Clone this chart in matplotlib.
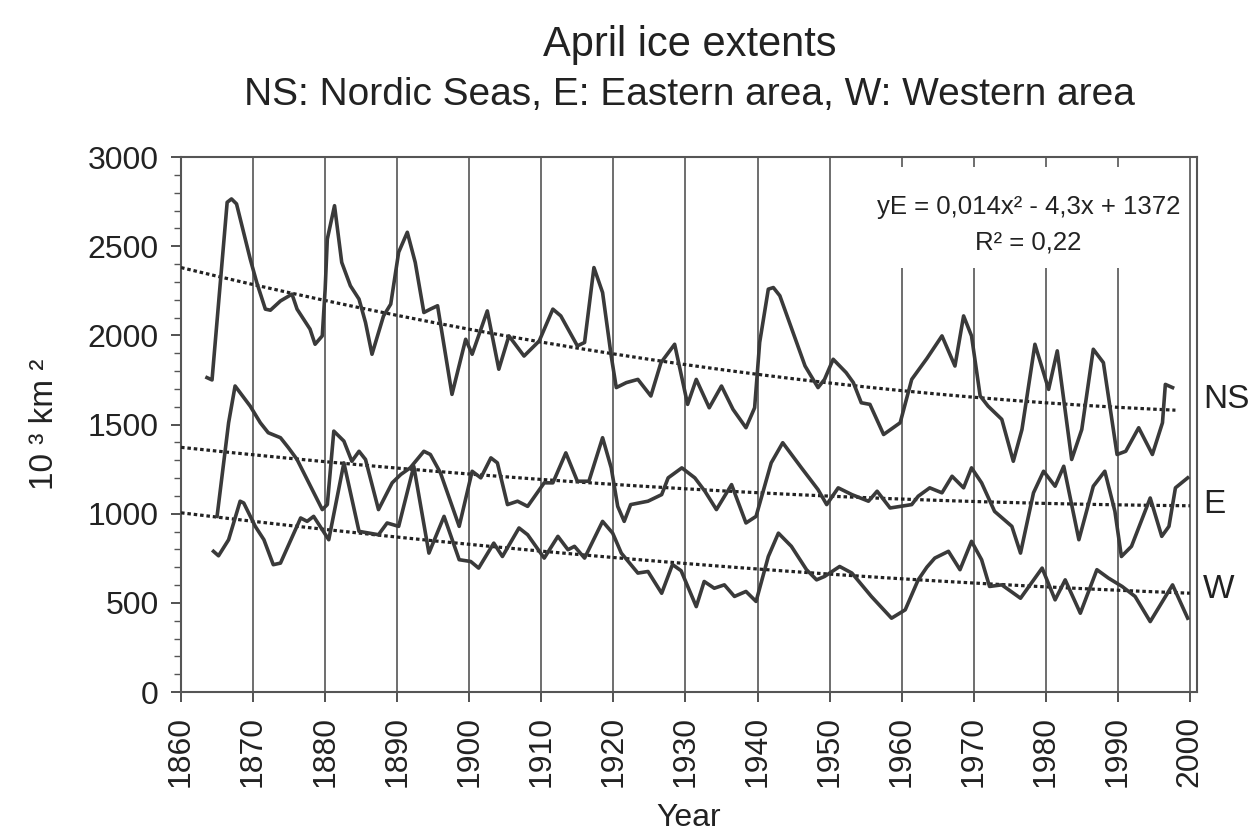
import numpy as np
import matplotlib
matplotlib.use("Agg")
import matplotlib.pyplot as plt
from matplotlib.patches import Rectangle

plt.rcParams['font.family'] = ['Liberation Sans', 'DejaVu Sans']

# ---- data ----
ns_years = [1863.6, 1864.3, 1866.4, 1867.0, 1867.7, 1869.6, 1870.5, 1871.7, 1872.4, 1873.8,
            1875.4, 1876.1, 1877.0, 1877.9, 1878.6, 1879.6, 1880.0, 1880.3, 1881.3, 1882.3,
            1883.5, 1884.7, 1885.6, 1886.5, 1888.1, 1889.1, 1890.2, 1891.4, 1892.5, 1893.7,
            1894.6, 1895.6, 1897.6, 1899.5, 1900.4, 1902.5, 1904.1, 1905.5, 1907.6, 1909.7,
            1911.6, 1912.7, 1915.0, 1916.0, 1917.3, 1918.5, 1919.7, 1920.4, 1921.8, 1923.4,
            1925.2, 1926.6, 1928.5, 1930.3, 1931.5, 1933.3, 1935.0, 1936.6, 1938.4, 1939.6,
            1940.3, 1941.5, 1942.2, 1943.1, 1946.6, 1948.4, 1949.3, 1950.5, 1952.3, 1953.3,
            1954.4, 1955.6, 1957.5, 1959.8, 1961.4, 1963.5, 1965.6, 1967.4, 1968.6, 1969.7,
            1970.9, 1972.0, 1973.9, 1975.5, 1976.7, 1978.5, 1980.4, 1981.6, 1983.6, 1985.0,
            1986.6, 1988.0, 1989.9, 1991.1, 1992.9, 1994.8, 1996.2, 1996.6, 1997.6]
ns_values = [1763, 1750, 2746, 2765, 2737, 2428, 2297, 2147, 2141, 2193,
             2231, 2147, 2091, 2035, 1950, 1997, 2259, 2540, 2727, 2409,
             2278, 2203, 2072, 1894, 2109, 2175, 2466, 2578, 2409, 2128,
             2147, 2166, 1669, 1978, 1894, 2137, 1810, 1997, 1884, 1968,
             2147, 2109, 1941, 1960, 2380, 2240, 1884, 1707, 1735, 1753,
             1660, 1847, 1950, 1613, 1753, 1594, 1716, 1585, 1482, 1594,
             1960, 2259, 2268, 2222, 1828, 1707, 1753, 1866, 1791, 1735,
             1622, 1613, 1444, 1510, 1753, 1870, 1997, 1828, 2109, 1997,
             1660, 1603, 1529, 1294, 1472, 1950, 1697, 1913, 1304, 1472,
             1922, 1847, 1332, 1350, 1482, 1332, 1510, 1725, 1707]

e_years = [1865.0, 1866.6, 1867.5, 1869.6, 1871.0, 1872.1, 1873.8, 1874.9, 1876.1, 1879.6,
           1880.3, 1881.2, 1882.6, 1883.7, 1884.7, 1885.6, 1887.4, 1889.3, 1890.5, 1891.8,
           1893.7, 1894.6, 1896.0, 1898.6, 1900.4, 1901.6, 1903.0, 1903.9, 1905.3, 1906.7,
           1908.1, 1910.4, 1911.6, 1913.4, 1915.0, 1916.6, 1918.5, 1919.7, 1920.6, 1921.5,
           1922.4, 1924.8, 1926.7, 1927.6, 1929.5, 1931.3, 1932.7, 1934.3, 1936.4, 1938.4,
           1939.8, 1941.9, 1943.5, 1946.1, 1948.4, 1949.6, 1951.2, 1953.1, 1955.4, 1956.6,
           1958.4, 1961.4, 1962.3, 1963.9, 1965.6, 1967.0, 1968.6, 1969.7, 1971.1, 1972.9,
           1975.3, 1976.5, 1978.3, 1979.7, 1981.3, 1982.5, 1984.6, 1986.6, 1988.2, 1989.6,
           1990.5, 1991.9, 1994.5, 1996.1, 1997.1, 1998.0, 1999.7]
e_values = [985, 1510, 1716, 1603, 1510, 1454, 1426, 1370, 1304, 1023,
            1051, 1463, 1407, 1294, 1350, 1304, 1023, 1173, 1220, 1257,
            1350, 1332, 1229, 929, 1238, 1201, 1313, 1285, 1051, 1070,
            1041, 1173, 1173, 1341, 1182, 1182, 1426, 1257, 1041, 957,
            1051, 1070, 1107, 1201, 1257, 1201, 1126, 1023, 1163, 948,
            985, 1285, 1398, 1257, 1135, 1051, 1145, 1107, 1070, 1126,
            1032, 1051, 1098, 1145, 1117, 1210, 1145, 1257, 1173, 1013,
            929, 779, 1117, 1238, 1154, 1266, 854, 1154, 1238, 1013,
            760, 817, 1088, 873, 929, 1145, 1201]

w_years = [1864.5, 1865.2, 1866.6, 1868.2, 1868.7, 1870.3, 1871.5, 1872.8, 1873.8, 1876.6,
           1877.5, 1878.4, 1880.5, 1882.6, 1884.7, 1887.4, 1888.6, 1890.2, 1892.3, 1894.4,
           1896.5, 1898.6, 1900.2, 1901.3, 1903.4, 1904.6, 1906.9, 1908.1, 1910.4, 1912.3,
           1913.7, 1914.6, 1916.0, 1918.5, 1919.9, 1921.1, 1923.4, 1924.8, 1926.7, 1928.2,
           1929.4, 1931.5, 1932.6, 1934.0, 1935.4, 1936.8, 1938.4, 1939.8, 1941.5, 1942.9,
           1944.7, 1946.8, 1948.2, 1949.3, 1951.4, 1953.1, 1955.8, 1958.6, 1960.5, 1962.3,
           1963.5, 1964.6, 1966.5, 1968.1, 1969.7, 1971.1, 1972.2, 1973.9, 1976.5, 1979.5,
           1981.3, 1982.7, 1984.8, 1987.1, 1988.7, 1990.6, 1992.4, 1994.5, 1997.6, 1999.7]
w_values = [789, 764, 854, 1070, 1060, 929, 854, 714, 723, 976,
            957, 985, 854, 1285, 901, 882, 948, 929, 1266, 779,
            985, 742, 732, 695, 835, 760, 920, 882, 751, 873,
            798, 817, 751, 957, 891, 779, 667, 676, 554, 715,
            680, 479, 620, 582, 601, 536, 564, 508, 760, 891,
            817, 686, 629, 648, 704, 667, 536, 414, 461, 629,
            700, 751, 789, 686, 845, 742, 592, 601, 526, 695,
            517, 629, 442, 686, 639, 592, 536, 395, 601, 414]

# quadratic trend coefficients (x = year - 1860): a, b, c
ns_trend = [0.0291, -9.81, 2380]
e_trend = [0.014, -4.3, 1372]
w_trend = [0.012, -4.9, 1005]

series_labels = ['NS', 'E', 'W']
x_ticks = list(range(1860, 2001, 10))
y_ticks = list(range(0, 3001, 500))

# ---- figure ----
fig = plt.figure(figsize=(12.59, 8.36), dpi=100)
ax = fig.add_axes([0.1438, 0.1722, 0.9508 - 0.1438, 0.8122 - 0.1722])

line_col = '#3a3a3a'
for xs, ys in [(ns_years, ns_values), (e_years, e_values), (w_years, w_values)]:
    ax.plot(xs, ys, color=line_col, lw=2.6, zorder=4, solid_joinstyle='round')

for coef, x_end in [(ns_trend, 1998), (e_trend, 2000), (w_trend, 2000)]:
    yrs = np.arange(1860, x_end + 1)
    xx = yrs - 1860
    ax.plot(yrs, np.polyval(coef, xx), color='#222222', lw=2.3,
            linestyle=(0, (1.1, 0.9)), zorder=3)

ax.set_xlim(1860, 2001)
ax.set_ylim(0, 3000)
ax.set_xticks(x_ticks)
ax.set_xticklabels([str(t) for t in x_ticks], rotation=90, fontsize=23)
ax.set_yticks(y_ticks)
ax.set_yticklabels([str(t) for t in y_ticks], fontsize=23)
ax.set_yticks(range(0, 3001, 100), minor=True)
ax.tick_params(axis='y', which='major', direction='out', length=7, width=1.2, pad=9, colors='#333333', labelcolor='#222222')
ax.tick_params(axis='y', which='minor', direction='out', length=5, width=1.0, colors='#555555')
ax.tick_params(axis='x', which='major', direction='out', length=7, width=1.2, pad=10, colors='#333333', labelcolor='#222222')

for t in x_ticks[1:]:
    ax.axvline(t, color='#6e6e6e', lw=1.4, zorder=1)

for s in ax.spines.values():
    s.set_color('#555555')
    s.set_linewidth(1.5)

# white panel behind the fit equation
ax.add_patch(Rectangle((0.68, 0.792), 0.308, 0.19, transform=ax.transAxes,
                       facecolor='white', edgecolor='none', zorder=2))
ax.text(0.834, 0.906, 'yE = 0,014x² - 4,3x + 1372', transform=ax.transAxes,
        ha='center', va='center', fontsize=18.5, color='#222222', zorder=5)
ax.text(0.834, 0.84, 'R² = 0,22', transform=ax.transAxes,
        ha='center', va='center', fontsize=18.5, color='#222222', zorder=5)

# series labels at right
for lab, yv in zip(series_labels, [1641, 1051, 573]):
    ax.text(2001.8, yv, lab, fontsize=24, ha='left', va='center', color='#222222', clip_on=False)

ax.set_xlabel('Year', fontsize=23, color='#222222', labelpad=12)
ax.set_ylabel('10 ³ km ²', fontsize=24, color='#222222', labelpad=20)

fig.text(0.548, 0.946, 'April ice extents', ha='center', va='center', fontsize=30, color='#222222')
fig.text(0.548, 0.886, 'NS: Nordic Seas, E: Eastern area, W: Western area', ha='center', va='center',
         fontsize=28, color='#222222')

fig.savefig('out.png', dpi=100, facecolor='white')
